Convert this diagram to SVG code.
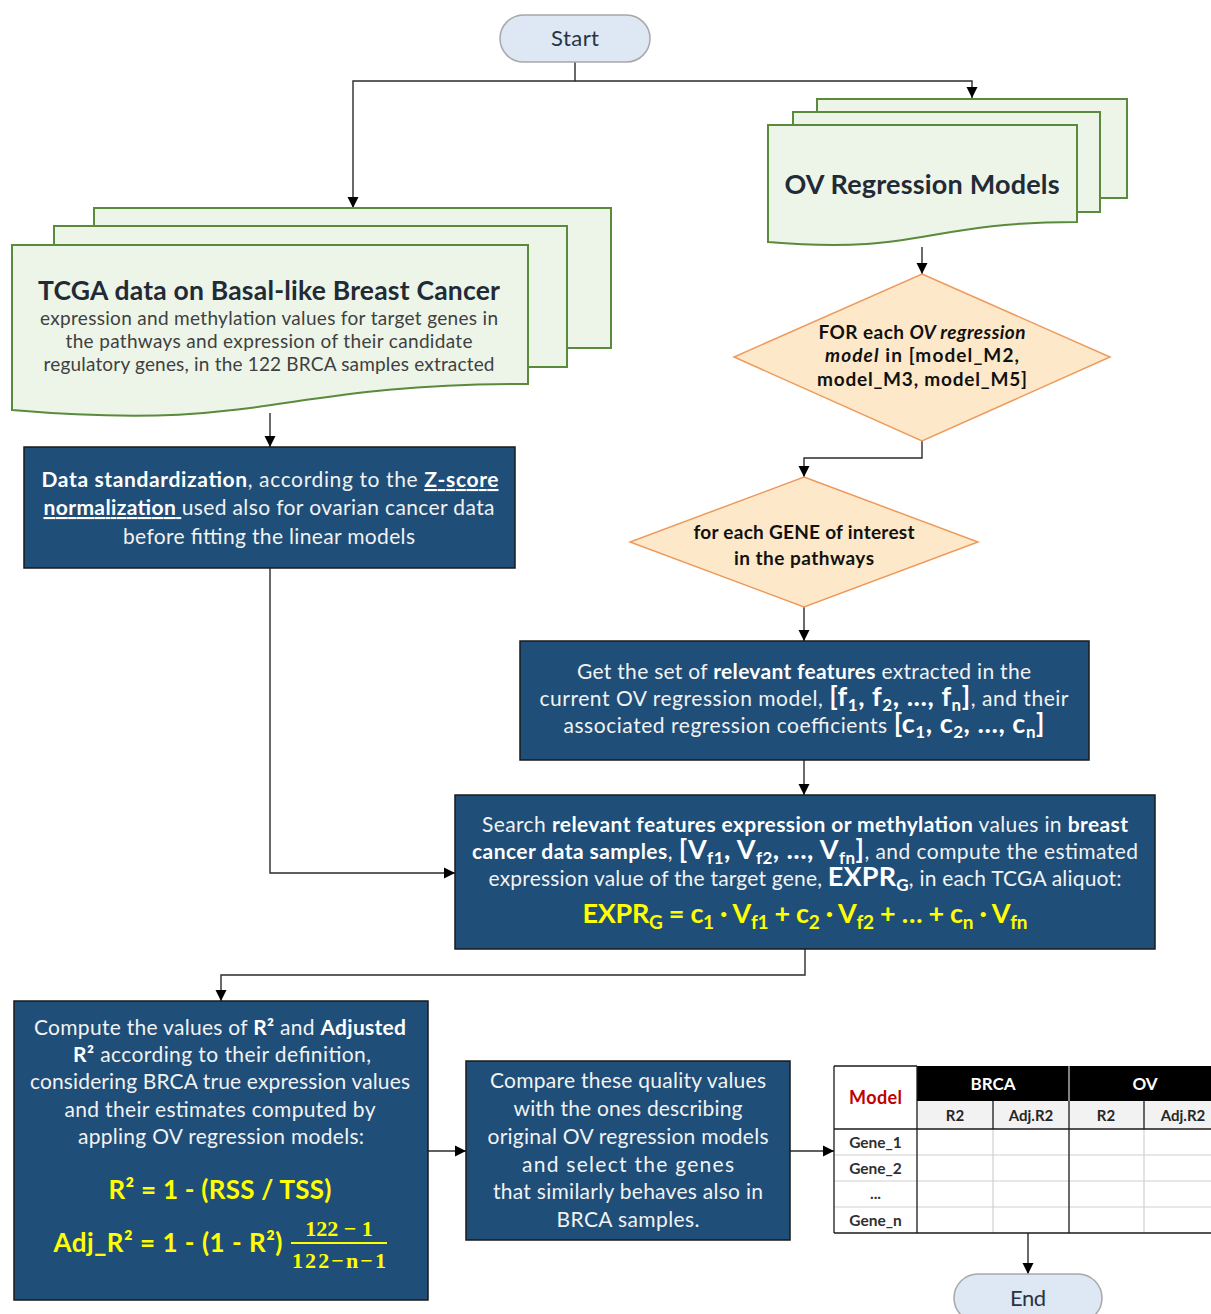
<svg xmlns="http://www.w3.org/2000/svg" width="1211" height="1314" viewBox="0 0 1211 1314">
  <defs>
    <marker id="arrow" viewBox="0 0 10 10" refX="10" refY="5" markerWidth="11" markerHeight="12" markerUnits="userSpaceOnUse" orient="auto">
      <path d="M0,0 L10,5 L0,10 Z" fill="#000"/>
    </marker>
    <style>
      text { font-family: Lato, "Open Sans", "Liberation Sans", sans-serif; }
      .term { fill: #dde8f4; stroke: #a8a8a8; stroke-width: 1.5; }
      .termtxt { font-size: 22px; fill: #2a3340; text-anchor: middle; }
      .doc { fill: #edf5e8; stroke: #5a8a3c; stroke-width: 2; }
      .dec { fill: #fde9c9; stroke: #ee9a5c; stroke-width: 1.5; }
      .dectxt { font-size: 19px; font-weight: bold; fill: #111; text-anchor: middle; }
      .proc { fill: #1f4e79; stroke: #1a1a1a; stroke-width: 1.5; }
      .wt { font-size: 21px; fill: #f2f2f2; text-anchor: middle; }
      .b { font-weight: bold; fill: #ffffff; }
      .big { font-size: 27px; }
      .sub { font-size: 17px; }
      .yl { fill: #ffff00; font-weight: bold; text-anchor: middle; }
      .conn { fill: none; stroke: #2b2b2b; stroke-width: 1.4; }
      .frac { font-family: "Liberation Serif", "DejaVu Serif", serif; font-weight: bold; font-size: 22px; fill: #ffff00; text-anchor: middle; }
      .th { font-size: 17px; font-weight: bold; fill: #fff; text-anchor: middle; }
      .th2 { font-size: 15px; font-weight: bold; fill: #262626; text-anchor: middle; }
      .rowlbl { font-size: 15.5px; font-weight: bold; fill: #303030; text-anchor: middle; }
      .grid { stroke: #d0d0d0; stroke-width: 1.2; }
      .gridd { stroke: #1a1a1a; stroke-width: 1.3; }
    </style>
  </defs>

  <!-- connectors -->
  <g id="connectors">
    <path class="conn" d="M575,62 V81 H353 V208" marker-end="url(#arrow)"/>
    <path class="conn" d="M575,81 H972 V98" marker-end="url(#arrow)"/>
    <path class="conn" d="M270,413 V447" marker-end="url(#arrow)"/>
    <path class="conn" d="M270,568 V873 H455" marker-end="url(#arrow)"/>
    <path class="conn" d="M922,247 V274" marker-end="url(#arrow)"/>
    <path class="conn" d="M922,441 V458 H804 V477" marker-end="url(#arrow)"/>
    <path class="conn" d="M804,607 V641" marker-end="url(#arrow)"/>
    <path class="conn" d="M804,760 V795" marker-end="url(#arrow)"/>
    <path class="conn" d="M805,949 V975 H221 V1001" marker-end="url(#arrow)"/>
    <path class="conn" d="M428,1151 H466" marker-end="url(#arrow)"/>
    <path class="conn" d="M790,1151 H834" marker-end="url(#arrow)"/>
    <path class="conn" d="M1028,1233 V1274" marker-end="url(#arrow)"/>
  </g>

  <!-- start terminal -->
  <g id="start">
    <rect class="term" x="500" y="15" width="150" height="47" rx="23.5"/>
    <text class="termtxt" x="575" y="46" textLength="48">Start</text>
  </g>

  <!-- TCGA input documents -->
  <g id="tcga-data">
    <rect class="doc" x="94" y="208" width="517" height="140"/>
    <rect class="doc" x="54" y="226" width="513" height="141"/>
    <path class="doc" d="M12,245 H528 V384 C270,384 270,432 12,410 Z"/>
    <text x="269" y="300" text-anchor="middle" font-size="26.5" font-weight="bold" fill="#222a35" textLength="462">TCGA data on Basal-like Breast Cancer</text>
    <text x="269" y="325" text-anchor="middle" font-size="19" fill="#404040" textLength="458">expression and methylation values for target genes in</text>
    <text x="269" y="348" text-anchor="middle" font-size="19" fill="#404040" textLength="407">the pathways and expression of their candidate</text>
    <text x="269" y="371" text-anchor="middle" font-size="19" fill="#404040" textLength="451">regulatory genes, in the 122 BRCA samples extracted</text>
  </g>

  <!-- OV regression model documents -->
  <g id="ov-models">
    <rect class="doc" x="817" y="99" width="310" height="99"/>
    <rect class="doc" x="793" y="112" width="307" height="100"/>
    <path class="doc" d="M768,125 H1077 V222 C922,222 922,255 768,242 Z"/>
    <text x="922" y="194" text-anchor="middle" font-size="27" font-weight="bold" fill="#222a35" textLength="275">OV Regression Models</text>
  </g>

  <!-- data standardization -->
  <g id="standardization">
    <rect class="proc" x="24" y="447" width="491" height="121"/>
    <text class="wt" x="270" y="487" textLength="457"><tspan class="b">Data standardization</tspan>, according to the <tspan class="b" text-decoration="underline">Z-score</tspan></text>
    <text class="wt" x="269" y="515" textLength="451"><tspan class="b" text-decoration="underline">normalization </tspan>used also for ovarian cancer data</text>
    <text class="wt" x="269" y="544" textLength="292">before fitting the linear models</text>
  </g>

  <!-- loop over models -->
  <g id="for-each-model">
    <polygon class="dec" points="922,274 1110,357 922,441 734,357"/>
    <text class="dectxt" x="922" y="339" textLength="207">FOR each <tspan font-style="italic">OV regression</tspan></text>
    <text class="dectxt" x="922" y="362" textLength="194"><tspan font-style="italic">model</tspan> in [model_M2,</text>
    <text class="dectxt" x="922" y="386" textLength="210">model_M3, model_M5]</text>
  </g>

  <!-- loop over genes -->
  <g id="for-each-gene">
    <polygon class="dec" points="804,477 978,542 804,607 630,542"/>
    <text class="dectxt" x="804" y="539" textLength="221">for each GENE of interest</text>
    <text class="dectxt" x="804" y="565" textLength="140">in the pathways</text>
  </g>

  <!-- feature extraction -->
  <g id="get-features">
    <rect class="proc" x="520" y="641" width="569" height="119"/>
    <text class="wt" x="804" y="679" textLength="454">Get the set of <tspan class="b">relevant features</tspan> extracted in the</text>
    <text class="wt" x="804" y="706" textLength="529">current OV regression model, <tspan class="b big">[f<tspan class="sub" dy="5">1</tspan><tspan dy="-5">, f</tspan><tspan class="sub" dy="5">2</tspan><tspan dy="-5">, ..., f</tspan><tspan class="sub" dy="5">n</tspan><tspan dy="-5">]</tspan></tspan>, and their</text>
    <text class="wt" x="804" y="733" textLength="481">associated regression coefficients <tspan class="b big">[c<tspan class="sub" dy="5">1</tspan><tspan dy="-5">, c</tspan><tspan class="sub" dy="5">2</tspan><tspan dy="-5">, ..., c</tspan><tspan class="sub" dy="5">n</tspan><tspan dy="-5">]</tspan></tspan></text>
  </g>

  <!-- estimate expression -->
  <g id="search-compute">
    <rect class="proc" x="455" y="795" width="700" height="154"/>
    <text class="wt" x="805" y="832" textLength="646">Search <tspan class="b">relevant features expression or methylation</tspan> values in <tspan class="b">breast</tspan></text>
    <text class="wt" x="805" y="859" textLength="666"><tspan class="b">cancer data samples</tspan>, <tspan class="b big">[V<tspan class="sub" dy="5">f1</tspan><tspan dy="-5">, V</tspan><tspan class="sub" dy="5">f2</tspan><tspan dy="-5">, ..., V</tspan><tspan class="sub" dy="5">fn</tspan><tspan dy="-5">]</tspan></tspan>, and compute the estimated</text>
    <text class="wt" x="805" y="886" textLength="633">expression value of the target gene, <tspan class="b big">EXPR<tspan class="sub" dy="5">G</tspan></tspan><tspan dy="-5">, in each TCGA aliquot:</tspan></text>
    <text class="yl" x="805" y="923" font-size="27" textLength="445">EXPR<tspan font-size="19" dy="6">G</tspan><tspan dy="-6"> = c</tspan><tspan font-size="19" dy="6">1</tspan><tspan dy="-6"> · V</tspan><tspan font-size="19" dy="6">f1</tspan><tspan dy="-6"> + c</tspan><tspan font-size="19" dy="6">2</tspan><tspan dy="-6"> · V</tspan><tspan font-size="19" dy="6">f2</tspan><tspan dy="-6"> + … + c</tspan><tspan font-size="19" dy="6">n</tspan><tspan dy="-6"> · V</tspan><tspan font-size="19" dy="6">fn</tspan></text>
  </g>

  <!-- quality metrics -->
  <g id="compute-r2">
    <rect class="proc" x="14" y="1001" width="414" height="299"/>
    <text class="wt" x="220" y="1035" textLength="372">Compute the values of <tspan class="b">R²</tspan> and <tspan class="b">Adjusted</tspan></text>
    <text class="wt" x="222" y="1062" textLength="298"><tspan class="b">R²</tspan> according to their definition,</text>
    <text class="wt" x="220" y="1089" textLength="380">considering BRCA true expression values</text>
    <text class="wt" x="220" y="1117" textLength="311">and their estimates computed by</text>
    <text class="wt" x="221" y="1144" textLength="286">appling OV regression models:</text>
    <text class="yl" x="220" y="1199" font-size="26" textLength="223">R² = 1 - (RSS / TSS)</text>
    <text class="yl" x="168" y="1252" font-size="26" textLength="229">Adj_R² = 1 - (1 - R²)</text>
    <text class="frac" x="339" y="1236">122 − 1</text>
    <line x1="291" y1="1243" x2="387" y2="1243" stroke="#ffff00" stroke-width="2"/>
    <text class="frac" x="339" y="1268" textLength="94">122−n−1</text>
  </g>

  <!-- gene selection -->
  <g id="compare-select">
    <rect class="proc" x="466" y="1061" width="324" height="179"/>
    <text class="wt" x="628" y="1088" textLength="276">Compare these quality values</text>
    <text class="wt" x="628" y="1116" textLength="229">with the ones describing</text>
    <text class="wt" x="628" y="1144" textLength="281">original OV regression models</text>
    <text class="wt" x="628" y="1172" textLength="212">and select the genes</text>
    <text class="wt" x="628" y="1199" textLength="270">that similarly behaves also in</text>
    <text class="wt" x="628" y="1227" textLength="143">BRCA samples.</text>
  </g>

  <!-- results table -->
  <g id="results-table">
    <rect x="834" y="1066" width="390" height="167" fill="#fff"/>
    <rect x="917" y="1066" width="307" height="35" fill="#000"/>
    <rect x="917" y="1101" width="307" height="28" fill="#f2f2f2"/>
    <line class="grid" x1="834" y1="1155" x2="1224" y2="1155"/>
    <line class="grid" x1="834" y1="1181" x2="1224" y2="1181"/>
    <line class="grid" x1="834" y1="1207" x2="1224" y2="1207"/>
    <line class="grid" x1="993" y1="1129" x2="993" y2="1233"/>
    <line class="grid" x1="1144" y1="1129" x2="1144" y2="1233"/>
    <line x1="1069" y1="1066" x2="1069" y2="1101" stroke="#d9d9d9" stroke-width="1.2"/>
    <line class="gridd" x1="993" y1="1101" x2="993" y2="1129"/>
    <line class="gridd" x1="1144" y1="1101" x2="1144" y2="1129"/>
    <line class="gridd" x1="1069" y1="1101" x2="1069" y2="1233"/>
    <line class="gridd" x1="834" y1="1129" x2="1224" y2="1129"/>
    <line class="gridd" x1="834" y1="1233" x2="1224" y2="1233"/>
    <line class="gridd" x1="917" y1="1066" x2="917" y2="1233"/>
    <line class="gridd" x1="834" y1="1066" x2="834" y2="1233"/>
    <line class="gridd" x1="834" y1="1066" x2="917" y2="1066"/>
    <text x="875.5" y="1104" text-anchor="middle" font-size="18" font-weight="bold" fill="#c00000" textLength="53">Model</text>
    <text class="th" x="993" y="1090">BRCA</text>
    <text class="th" x="1145" y="1090">OV</text>
    <text class="th2" x="955" y="1121">R2</text>
    <text class="th2" x="1031" y="1121">Adj.R2</text>
    <text class="th2" x="1106" y="1121">R2</text>
    <text class="th2" x="1183" y="1121">Adj.R2</text>
    <text class="rowlbl" x="875.5" y="1148">Gene_1</text>
    <text class="rowlbl" x="875.5" y="1174">Gene_2</text>
    <text class="rowlbl" x="875.5" y="1199">...</text>
    <text class="rowlbl" x="875.5" y="1226">Gene_n</text>
  </g>

  <!-- end terminal -->
  <g id="end">
    <rect class="term" x="954" y="1274" width="148" height="48" rx="24"/>
    <text class="termtxt" x="1028" y="1306" textLength="36">End</text>
  </g>
</svg>
